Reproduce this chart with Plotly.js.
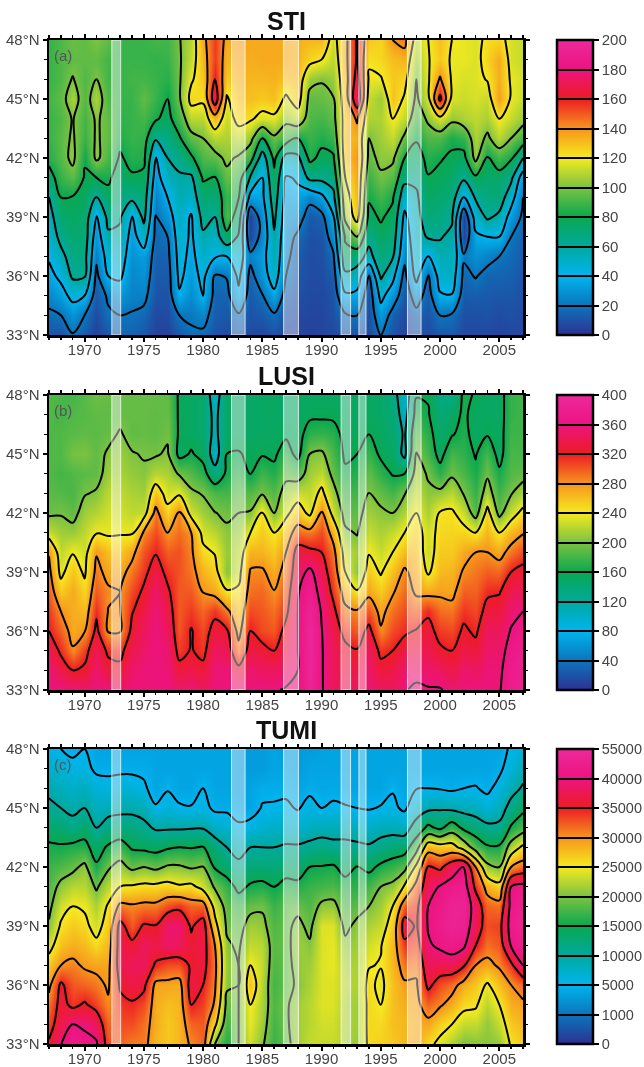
<!DOCTYPE html>
<html><head><meta charset="utf-8">
<script src="https://cdn.plot.ly/plotly-3.0.1.min.js"></script>
<style>html,body{margin:0;padding:0;background:#fff}#plot{width:644px;height:1067px;filter:blur(0.45px)}</style>
</head><body><div id="plot"></div>
<script>
const years=[1967,1968,1969,1970,1971,1972,1973,1974,1975,1976,1977,1978,1979,1980,1981,1982,1983,1984,1985,1986,1987,1988,1989,1990,1991,1992,1993,1994,1995,1996,1997,1998,1999,2000,2001,2002,2003,2004,2005,2006,2007];
const lats=[33,34,35,36,37,38,39,40,41,42,43,44,45,46,47,48];
// each row is one year, south to north
const stiByYear=[
[10,17,26,35,42,48,53,60,73,85,88,88,90,88,88,88],
[10,20,33,44,55,65,72,80,88,93,94,92,95,92,92,92],
[19,30,45,63,68,72,75,79,94,104,102,101,107,101,95,97],
[12,20,40,62,66,70,72,76,79,81,88,90,93,92,95,95],
[5,8,12,16,23,30,37,60,80,103,102,102,108,100,95,100],
[12,18,22,40,48,57,65,75,83,92,95,95,92,90,90,95],
[15,20,30,43,50,56,62,68,72,78,84,86,88,88,88,88],
[15,19,24,26,29,33,37,65,78,85,88,88,88,90,88,88],
[12,16,24,29,33,50,65,70,76,84,87,90,95,90,88,88],
[5,7,10,12,14,16,19,25,32,38,62,82,88,88,87,90],
[5,8,10,12,15,20,30,40,52,60,68,75,80,85,88,90],
[12,20,38,44,47,50,52,55,58,65,78,90,98,98,98,99],
[19,21,27,32,35,37,38,50,57,77,95,110,125,118,112,110],
[17,26,40,45,50,57,66,72,82,92,100,110,123,128,132,135],
[10,13,15,18,42,50,60,70,79,95,110,132,172,160,155,155],
[8,11,15,21,40,75,92,88,96,103,108,112,118,128,132,135],
[12,18,36,44,50,58,70,81,88,98,112,125,130,133,135,138],
[8,10,12,15,24,6,4,34,58,88,105,122,130,132,134,135],
[6,12,19,30,33,26,28,36,40,50,80,115,128,132,135,135],
[10,18,35,50,55,58,64,70,76,84,97,117,130,133,135,135],
[6,8,14,20,24,27,30,33,38,52,90,104,117,130,135,135],
[6,7,9,11,13,17,28,36,42,56,80,112,128,131,133,133],
[5,6,7,8,8,9,12,25,65,84,88,92,95,105,125,132],
[6,6,7,8,9,10,15,35,65,76,84,90,96,101,120,132],
[7,9,10,13,18,28,38,55,68,78,88,95,99,105,110,114],
[12,18,37,55,75,82,105,112,120,128,130,128,130,132,135,135],
[10,20,35,52,68,100,127,132,135,139,134,142,175,168,162,162],
[8,9,10,17,55,65,75,82,88,96,100,108,112,118,122,128],
[20,32,45,63,70,75,82,90,98,103,106,108,105,119,125,125],
[10,14,30,45,62,70,75,82,93,103,112,120,130,128,130,140],
[5,7,10,15,24,30,36,48,66,80,97,111,118,125,133,145],
[10,15,28,46,50,52,54,57,64,72,82,90,97,100,105,112],
[8,10,13,17,40,62,70,75,79,85,92,103,115,118,119,120],
[12,20,38,48,55,61,68,72,77,81,92,115,165,142,128,130],
[12,18,39,50,53,57,62,68,73,78,83,104,115,118,118,120],
[7,9,12,16,22,6,5,40,63,75,88,108,113,115,118,118],
[7,9,13,21,29,37,48,62,77,105,108,111,115,116,116,116],
[7,10,12,15,25,40,63,68,73,78,97,107,112,121,125,123],
[6,8,11,15,20,40,56,70,74,90,110,120,138,134,135,125],
[7,9,11,14,17,20,32,48,64,82,100,112,118,118,115,115],
[7,8,9,10,12,14,17,20,30,60,90,105,112,114,112,112]];
const lusiByYear=[
[358,355,340,320,310,298,288,278,225,195,188,185,185,183,185,185],
[358,335,315,297,280,255,232,222,212,198,185,180,185,185,180,182],
[355,320,283,270,268,270,258,238,210,190,182,185,198,188,185,180],
[350,325,310,278,262,250,235,228,222,212,198,188,200,190,187,187],
[358,352,340,328,315,300,288,278,238,218,203,190,190,188,190,195],
[355,330,315,277,279,284,272,260,236,228,220,210,204,192,190,192],
[350,327,312,277,279,280,270,255,238,228,222,215,210,203,192,192],
[358,350,338,328,318,305,290,272,236,222,215,208,202,190,192,192],
[358,355,350,345,335,325,312,302,284,225,212,204,198,192,192,192],
[358,358,358,358,355,350,335,318,305,290,258,220,197,190,190,192],
[358,355,352,345,335,325,312,298,280,250,228,215,204,196,192,190],
[350,330,310,300,300,300,302,303,293,285,235,197,150,155,155,155],
[355,335,322,322,310,300,290,285,280,228,205,185,163,150,150,150],
[345,328,312,305,295,279,265,248,230,212,198,172,150,145,145,145],
[358,355,345,332,312,270,252,238,220,201,182,135,100,110,110,100],
[358,354,340,325,287,244,203,208,205,195,180,165,160,150,150,150],
[358,330,290,270,258,245,230,222,212,200,190,175,162,150,148,148],
[358,352,335,320,305,292,283,265,240,202,185,158,155,148,148,148],
[358,345,330,305,300,295,284,265,255,245,197,178,158,150,150,150],
[358,345,320,300,292,281,268,255,240,200,185,168,155,150,150,150],
[362,350,340,330,312,300,290,280,262,232,212,192,175,155,148,145],
[362,360,360,360,360,358,345,335,295,258,225,185,150,150,150,150],
[390,392,395,395,388,378,368,328,290,232,222,212,200,172,155,150],
[362,362,362,361,358,350,338,320,305,285,248,222,205,175,155,150],
[345,343,342,338,328,312,300,290,268,228,210,192,182,170,155,150],
[345,335,328,310,288,265,240,225,205,190,178,165,155,152,152,150],
[345,335,322,300,283,243,205,212,198,190,180,170,160,155,150,150],
[355,350,345,330,300,272,255,238,225,212,201,190,175,160,152,150],
[345,330,313,283,272,255,237,225,215,205,190,172,155,150,148,148],
[345,335,320,305,292,277,260,240,225,200,180,158,150,145,140,135],
[358,350,335,315,305,295,285,262,240,218,198,160,110,115,105,95],
[365,352,338,322,297,275,268,260,252,240,225,212,202,188,172,158],
[362,350,338,330,315,270,235,225,228,215,205,197,180,170,162,158],
[362,345,325,310,293,275,262,255,248,243,208,172,150,145,140,135],
[352,335,320,305,290,272,265,255,250,245,220,195,180,158,148,135],
[358,350,335,325,312,298,283,270,250,225,198,182,172,168,165,165],
[358,345,330,315,305,297,290,280,240,185,175,165,158,150,150,158],
[358,355,350,345,330,315,298,280,265,252,215,195,180,158,150,150],
[358,355,350,342,332,318,295,270,240,190,178,165,150,150,150,150],
[375,375,370,362,352,338,320,290,265,225,198,185,182,178,175,175],
[385,382,378,372,360,345,330,305,278,250,215,190,180,178,178,178]];
// TUMI values in thousands
const tumiByYear=[
[35.5,33.5,31.5,29,27,23.5,20.5,19,18,17,15.7,13,11,9,7.5,6],
[39.9,37,36.5,35.8,30,27.5,25.5,23.5,21,18,15.4,13,10,8,6.5,5],
[46,40,34,32.5,30.8,28.5,26.8,25,22.5,19,16,11.5,9,7.5,5.8,4.5],
[43,39.5,35.5,32,29.5,27.8,26,24.5,22.5,21,16,13.5,10,8,6,5],
[41.5,38,33.5,31.2,29,26,23.5,22,19.5,15.5,13.5,10,8,6.5,4.5,4],
[33,32,30.5,29.5,29,28,26.8,25.5,22.5,19.5,15.5,11.8,8.5,6,4.5,4],
[32,33,34,35.5,37,37,36.5,31,25,21.5,17,12,9,6.5,4.5,4],
[31,33,34.5,37,38,36,32.5,30.5,25.5,19,14.5,12,9,6.5,4.5,4],
[31,31.5,33,36,38,38,35.5,31,26,20,14,11,8.5,5.5,4.5,4],
[28,28.5,28.5,29,34.5,37,35.2,31,26,19,13.5,9.5,5.3,4,4,4],
[27,27,27.5,29,33,38.5,39,33,26.5,20.5,14.5,9.5,6.5,4.8,4,4],
[28,28,28,28.5,33,38,39,34,25.5,20.5,15,9.5,5.4,4,4,4],
[30.5,32,35,37,35.5,36,34.5,32,26,19.5,14.8,9.7,5.2,4,4,4],
[32,32.5,33.5,35,36.5,37,37,32,23.5,20.2,15.2,9.7,6,5,4,4],
[20,26,29.5,30.5,31,30,26.5,23.5,19.5,14.5,12.5,7.5,4.5,4,4,4],
[16,17.5,19,20.5,21,20.5,19.5,18.5,16.8,13,10,7,4.5,4,4,4],
[20,20,20,20,20,19.5,18.5,17,14,11,8.5,5.5,4,3.5,3.5,3.5],
[23.5,24.5,25,27.5,25,23,21.5,19,15.5,12.5,10,6,4,4,3.5,3.5],
[20.5,21.5,22,22.5,23,22.5,21,19.5,16,12.5,10,7,5.2,4.5,3.5,3.5],
[17,17.5,18,17.5,18,18.5,18,17,15,12.5,10,7.5,5.3,4.5,4,4],
[19,19.5,19.5,19,19,19,19,18.5,16.5,13,10.5,7.5,5.5,4.5,4,3.5],
[21.5,21.5,21.5,20.5,21,21.5,21,19,16,13,10.5,7,4.8,4,3.5,3.5],
[23,22.5,22.5,22,21.5,20.5,19,18,17,15,11,8,6,4.5,4,3.5],
[23,23.5,24,24,24,24,24,20.8,17.5,15.2,11.5,8.5,5,4.2,4,3.8],
[23,23.5,24,24,24.5,24.5,24,21,18,15.5,11,8.5,5.5,4.3,4,4],
[22,22,22,22.5,22,21,19,18,16.5,13.5,11,8.5,5.2,4.2,4,4],
[21,21.5,21.5,22,22,21.5,21,18.5,16.5,15.2,10.8,8,5,4,4,4],
[26,26,26,26,24.8,23.5,22,20,17.5,14,10.5,7.5,4.8,4,4,4],
[26.5,26,25,24,25.2,24.8,23,21.5,20,15.8,11.5,8.5,5.2,4,4,4],
[27,27.5,27.5,27.5,28,28,27,25,21,17,12.5,8.5,5.7,4.8,4,4],
[28,28,28.5,29.5,31.5,34,37,32.5,25.5,18.5,13,8,4.5,4,4,4],
[29,28.5,29,29.5,31,33,34.5,34,31.5,26,18,12,7.5,4.9,4,4],
[26,29,32,36,38,39.5,41,40,38,35.5,28,16,9,5,4,4],
[24,26.5,30.5,33,37.5,42,46,44,41,34,27,14,9.5,4.8,4,4],
[22,25,28.5,31.5,38,45,50,50,45,38,27,17.5,9,4.5,4,4],
[20,23,26,28.5,35.5,42,48,50,47,41,23,14,8.5,5,4,4],
[20.5,23,25.5,27,30,35,37.5,38,34,30,18,12.5,8,5.2,4,4],
[20.5,21,22.5,24.5,29,31.5,33,32,28.5,21,15.5,11,6.5,4.5,4,4],
[21,23,25,27.5,30.5,32.5,33.5,31.5,26.5,20,15.5,11,8,6,4.5,4],
[25.5,27,28.5,30,34,41,46,44,40,30,22,15.5,11.5,8.5,6.5,5.5],
[27,28,29.3,32,40,46,50,48,44,32,26,18,14,10.5,8.5,6.5]];
const titles=["STI","LUSI","TUMI"];
const letters=["(a)","(b)","(c)"];
const stiTicks=[0,20,40,60,80,100,120,140,160,180,200];
const lusiTicks=[0,40,80,120,160,200,240,280,320,360,400];
const tumiTicks=[0,1000,5000,10000,15000,20000,25000,30000,35000,40000,55000];
const bandStart=[1972.3,1982.4,1986.8,1991.65,1993.15,1997.25];
const bandEnd=[1973.05,1983.55,1988.05,1992.45,1993.75,1998.4];
const latTicks=[33,36,39,42,45,48];
const latLabels=["33°N","36°N","39°N","42°N","45°N","48°N"];
const palette=["#2e3192","#0b75bc","#00b4ef","#00a99d","#0aa84f","#7cc242","#f5ea1f","#f7941d","#ed1c24","#ec1380","#ec2a9c"];

const W=644,H=1067,L=49,R=523,BARL=557,BARW=36;
const tops=[40,395,749],bottoms=[335,690,1044];
const FONT="Liberation Sans, Arial, sans-serif",TXT="#444";
const transpose=m=>lats.map((_,i)=>m.map(c=>c[i]));
function toIndex(v,t){for(let i=0;i<t.length-1;i++){if(v<=t[i+1])return i+(v-t[i])/(t[i+1]-t[i]);}return t.length-1;}
const panels=[
 transpose(stiByYear).map(r=>r.map(v=>toIndex(v,stiTicks))),
 transpose(lusiByYear).map(r=>r.map(v=>toIndex(v,lusiTicks))),
 transpose(tumiByYear).map(r=>r.map(v=>toIndex(v*1000,tumiTicks)))];
const tickSets=[stiTicks,lusiTicks,tumiTicks];
const colorscale=palette.map((c,i)=>[i/(palette.length-1),c]);
const traces=[],layout={width:W,height:H,margin:{l:0,r:0,t:0,b:0,autoexpand:false},paper_bgcolor:"#fff",plot_bgcolor:"#fff",showlegend:false,shapes:[],annotations:[]};
panels.forEach((z,p)=>{
 const sx=p?String(p+1):"";
 traces.push({type:"contour",x:years,y:lats,z:z,xaxis:"x"+sx,yaxis:"y"+sx,zmin:0,zmax:10,zsmooth:"best",
  colorscale:colorscale,autocontour:false,
  contours:{coloring:"heatmap",start:1,end:9,size:1,showlines:true},
  line:{color:"#000",width:2,smoothing:1},hoverinfo:"skip",
  colorbar:{x:BARL/W,xanchor:"left",xref:"container",y:1-bottoms[p]/H,yanchor:"bottom",yref:"container",
   thicknessmode:"pixels",thickness:BARW,lenmode:"pixels",len:bottoms[p]-tops[p],xpad:0,ypad:0,
   outlinewidth:2.5,outlinecolor:"#000",borderwidth:0,ticks:"outside",ticklen:5,tickwidth:2,tickcolor:"#000",
   tickmode:"array",tickvals:tickSets[p].map((_,i)=>i),ticktext:tickSets[p].map(String),
   tickfont:{family:FONT,size:p==2?14.5:15,color:TXT}}});
 layout["xaxis"+sx]={domain:[L/W,R/W],range:[1967,2007],anchor:"y"+sx,tickmode:"linear",tick0:1970,dtick:5,
  ticks:"outside",ticklen:4,tickwidth:2,tickcolor:"#000",showline:true,linecolor:"#000",linewidth:2.5,mirror:"allticks",
  showgrid:false,zeroline:false,tickfont:{family:FONT,size:15,color:TXT},ticklabelstandoff:-5,
  minor:{dtick:1,tick0:1970,ticks:"outside",ticklen:2.5,tickwidth:1.5,tickcolor:"#000",showgrid:false}};
 layout["yaxis"+sx]={domain:[1-bottoms[p]/H,1-tops[p]/H],range:[33,48],anchor:"x"+sx,tickmode:"array",tickvals:latTicks,ticktext:latLabels,
  ticks:"outside",ticklen:4,tickwidth:2,tickcolor:"#000",showline:true,linecolor:"#000",linewidth:2.5,mirror:"allticks",
  showgrid:false,zeroline:false,tickfont:{family:FONT,size:15,color:TXT},
  minor:{dtick:1,tick0:33,ticks:"outside",ticklen:2.5,tickwidth:1.5,tickcolor:"#000",showgrid:false}};
 bandStart.forEach((b,i)=>layout.shapes.push({type:"rect",xref:"x"+sx,yref:"y"+sx,x0:b,x1:bandEnd[i],y0:33,y1:48,layer:"above",
  fillcolor:"rgba(255,255,255,0.42)",line:{color:"rgba(255,255,255,0.75)",width:1}}));
 layout.annotations.push({xref:"paper",yref:"paper",x:286/W,y:1-(tops[p]-19)/H,yanchor:"middle",xanchor:"center",showarrow:false,
  text:"<b>"+titles[p]+"</b>",font:{family:FONT,size:25,color:"#111"}});
 layout.annotations.push({xref:"paper",yref:"paper",x:52/W,y:1-(tops[p]+15)/H,yanchor:"middle",xanchor:"left",showarrow:false,
  text:letters[p],font:{family:FONT,size:15,color:"#555"}});
});
Plotly.newPlot("plot",traces,layout,{staticPlot:true,displayModeBar:false});
</script></body></html>
